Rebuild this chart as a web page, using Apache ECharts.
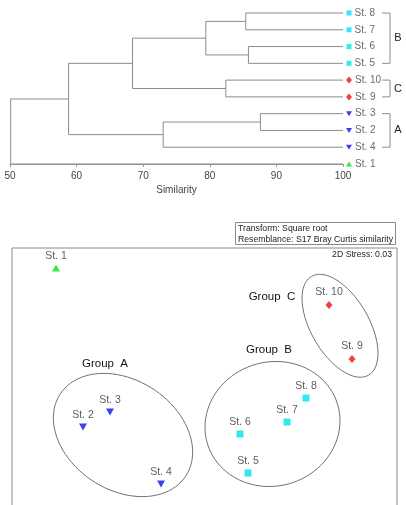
<!DOCTYPE html>
<html>
<head>
<meta charset="utf-8">
<script src="https://cdn.jsdelivr.net/npm/echarts@6/dist/echarts.min.js"></script>
<style>html,body{margin:0;padding:0;background:#fff}#main{width:406px;height:505px}</style>
</head>
<body>
<div id="main"></div>
<script>
// cluster dendrogram, leaves listed top to bottom
var leaves = ['St. 8', 'St. 7', 'St. 6', 'St. 5', 'St. 10', 'St. 9', 'St. 3', 'St. 2', 'St. 4', 'St. 1'];
var leafGroup = ['B', 'B', 'B', 'B', 'C', 'C', 'A', 'A', 'A', '1'];
// merges in order, '#n' points to merge n
var mergeLeft = ['St. 3', 'St. 6', 'St. 8', 'St. 10', '#2', '#0', '#4', '#6', '#7'];
var mergeRight = ['St. 2', 'St. 5', 'St. 7', 'St. 9', '#1', 'St. 4', '#3', '#5', 'St. 1'];
var mergeSim = [87.6, 85.8, 85.4, 82.4, 79.4, 73.0, 68.4, 58.8, 50.1];
var bracketNames = ['B', 'C', 'A'];
var bracketFrom = ['St. 8', 'St. 10', 'St. 3'];
var bracketTo = ['St. 5', 'St. 9', 'St. 4'];

// MDS ordination
var stations = ['St. 1', 'St. 2', 'St. 3', 'St. 4', 'St. 5', 'St. 6', 'St. 7', 'St. 8', 'St. 9', 'St. 10'];
var stationGroup = ['1', 'A', 'A', 'A', 'B', 'B', 'B', 'B', 'C', 'C'];
var mdsX = [-1.48, -1.21, -0.94, -0.43, 0.44, 0.36, 0.83, 1.02, 1.48, 1.25];
var mdsY = [0.52, -1.07, -0.92, -1.64, -1.53, -1.14, -1.02, -0.78, -0.39, 0.15];
var groupNames = ['Group  A', 'Group  B', 'Group  C'];
var groupCx = [-0.81, 0.685, 1.36];
var groupCy = [-1.15, -1.04, -0.058];
var groupRx = [0.75, 0.68, 0.57];
var groupRy = [0.55, 0.62, 0.29];
var groupAngle = [-33, 17, -60];
var groupLabelX = [-0.99, 0.65, 0.68];
var groupLabelY = [-0.44, -0.30, 0.23];
var stress = '0.03';

var font = 'Liberation Sans, Arial, sans-serif';
var markStyle = {
  A: {symbol: 'triangle', rotate: 180, color: '#0c10e8', small: [6, 5], big: [8, 7]},
  B: {symbol: 'rect', rotate: 0, color: '#00e4ee', small: [5, 5], big: [7, 7]},
  C: {symbol: 'diamond', rotate: 0, color: '#ee1010', small: [6, 7], big: [7, 8]},
  '1': {symbol: 'triangle', rotate: 0, color: '#10dc10', small: [6, 5], big: [8, 7]}
};

// layout the tree
var nodePos = {};
leaves.forEach(function (name, i) { nodePos[name] = [100, leaves.length - 1 - i]; });
function node(key) {
  return key.charAt(0) === '#' ? nodePos['m' + key.slice(1)] : nodePos[key];
}
var linkData = mergeSim.map(function (s, i) {
  var a = node(mergeLeft[i]), b = node(mergeRight[i]);
  nodePos['m' + i] = [s, (a[1] + b[1]) / 2];
  return [a[0], a[1], b[0], b[1], s];
});
var leafData = leaves.map(function (name, i) {
  var st = markStyle[leafGroup[i]];
  return {name: name, value: nodePos[name], symbol: st.symbol, symbolRotate: st.rotate,
    symbolSize: st.small, itemStyle: {color: st.color}};
});
var bracketData = bracketNames.map(function (n, i) {
  return [nodePos[bracketFrom[i]][1], nodePos[bracketTo[i]][1], i];
});

var mdsData = stations.map(function (name, i) {
  var st = markStyle[stationGroup[i]];
  return {name: name, value: [mdsX[i], mdsY[i]], symbol: st.symbol, symbolRotate: st.rotate,
    symbolSize: st.big, itemStyle: {color: st.color}};
});
var ellipseData = groupNames.map(function (n, i) {
  return [groupCx[i], groupCy[i], groupRx[i], groupRy[i], groupAngle[i]];
});
var groupLabelData = groupNames.map(function (n, i) {
  return [groupLabelX[i], groupLabelY[i], i];
});

var option = {
  animation: false,
  textStyle: {fontFamily: font},
  grid: [
    {left: 10, top: 13, width: 333, height: 153, outerBoundsMode: 'none'},
    {left: 12, top: 248, width: 385, height: 270, show: true, borderColor: '#8a8a8a', borderWidth: 1, outerBoundsMode: 'none'}
  ],
  xAxis: [
    {gridIndex: 0, type: 'value', min: 50, max: 100, interval: 10,
      axisLine: {lineStyle: {color: '#999'}},
      axisTick: {length: 3, lineStyle: {color: '#999'}},
      axisLabel: {color: '#444', fontSize: 10, margin: 5},
      splitLine: {show: false},
      name: 'Similarity', nameLocation: 'middle', nameGap: 19,
      nameTextStyle: {color: '#444', fontSize: 10}},
    {gridIndex: 1, type: 'value', min: -1.92, max: 1.93, show: false, splitLine: {show: false}}
  ],
  yAxis: [
    {gridIndex: 0, type: 'value', min: -0.12, max: 9, show: false, splitLine: {show: false}},
    {gridIndex: 1, type: 'value', min: -1.98, max: 0.72, show: false, splitLine: {show: false}}
  ],
  graphic: [
    {type: 'rect', shape: {x: 235.5, y: 222.5, width: 160, height: 22},
      style: {fill: '#fff', stroke: '#8a8a8a', lineWidth: 1}},
    {type: 'text', x: 238, y: 223.5,
      style: {text: 'Transform: Square root\nResemblance: S17 Bray Curtis similarity',
        fill: '#222', font: '8.7px ' + font, lineHeight: 10.5}},
    {type: 'text', x: 392, y: 254.5,
      style: {text: '2D Stress: ' + stress, fill: '#222', font: '8.7px ' + font,
        align: 'right', verticalAlign: 'middle'}}
  ],
  series: [
    {type: 'custom', xAxisIndex: 0, yAxisIndex: 0, data: linkData, silent: true,
      renderItem: function (params, api) {
        var p1 = api.coord([api.value(0), api.value(1)]);
        var q1 = api.coord([api.value(4), api.value(1)]);
        var q2 = api.coord([api.value(4), api.value(3)]);
        var p2 = api.coord([api.value(2), api.value(3)]);
        return {type: 'polyline', shape: {points: [p1, q1, q2, p2]},
          style: {fill: 'none', stroke: '#8c8c8c', lineWidth: 1}};
      }},
    {type: 'custom', xAxisIndex: 0, yAxisIndex: 0, data: bracketData, silent: true,
      renderItem: function (params, api) {
        var a = api.coord([100, api.value(0)]);
        var b = api.coord([100, api.value(1)]);
        var x0 = a[0] + 39, x1 = a[0] + 47;
        return {type: 'group', children: [
          {type: 'polyline', shape: {points: [[x0, a[1]], [x1, a[1]], [x1, b[1]], [x0, b[1]]]},
            style: {fill: 'none', stroke: '#8c8c8c', lineWidth: 1}},
          {type: 'text', x: a[0] + 55, y: (a[1] + b[1]) / 2,
            style: {text: bracketNames[api.value(2)], fill: '#222', font: '11px ' + font,
              align: 'center', verticalAlign: 'middle'}}
        ]};
      }},
    {type: 'scatter', xAxisIndex: 0, yAxisIndex: 0, data: leafData, clip: false,
      symbolOffset: [6, 0], silent: true,
      label: {show: true, position: 'right', distance: 3, formatter: '{b}',
        color: '#444', fontSize: 10}},
    {type: 'custom', xAxisIndex: 1, yAxisIndex: 1, data: ellipseData, silent: true,
      renderItem: function (params, api) {
        var cx = api.value(0), cy = api.value(1), rx = api.value(2), ry = api.value(3);
        var th = api.value(4) * Math.PI / 180;
        var pts = [];
        for (var k = 0; k < 90; k++) {
          var t = k / 90 * Math.PI * 2;
          pts.push(api.coord([
            cx + rx * Math.cos(t) * Math.cos(th) - ry * Math.sin(t) * Math.sin(th),
            cy + rx * Math.cos(t) * Math.sin(th) + ry * Math.sin(t) * Math.cos(th)
          ]));
        }
        return {type: 'polygon', shape: {points: pts},
          style: {fill: 'none', stroke: '#707070', lineWidth: 1}};
      }},
    {type: 'custom', xAxisIndex: 1, yAxisIndex: 1, data: groupLabelData, silent: true,
      renderItem: function (params, api) {
        var p = api.coord([api.value(0), api.value(1)]);
        return {type: 'text', x: p[0], y: p[1],
          style: {text: groupNames[api.value(2)], fill: '#111', font: '11.5px ' + font,
            align: 'center', verticalAlign: 'middle'}};
      }},
    {type: 'scatter', xAxisIndex: 1, yAxisIndex: 1, data: mdsData, clip: false, silent: true,
      label: {show: true, position: 'top', distance: 3, formatter: '{b}',
        color: '#333', fontSize: 10.5}}
  ]
};

var myChart = echarts.init(document.getElementById('main'));
myChart.setOption(option);
</script>
</body>
</html>
